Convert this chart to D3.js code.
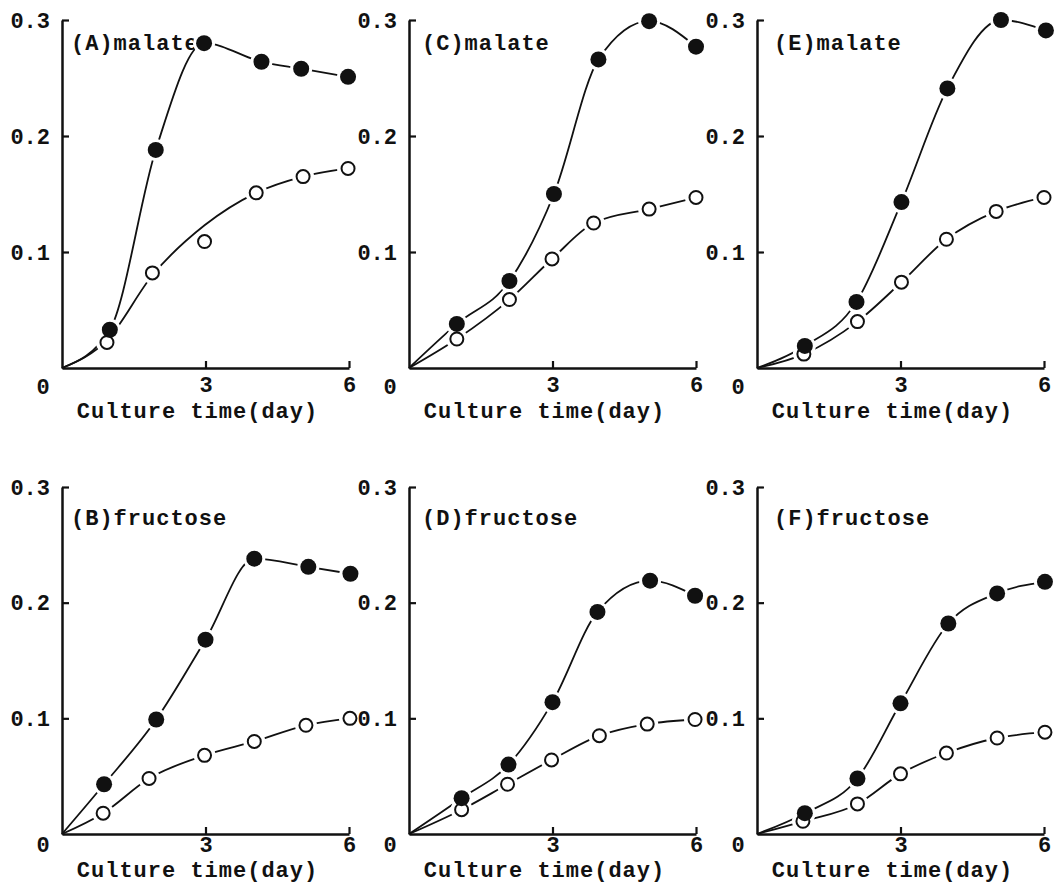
<!DOCTYPE html>
<html>
<head>
<meta charset="utf-8">
<script src="https://cdn.jsdelivr.net/npm/d3@7"></script>
<style>
  body { margin: 0; background: #fff; }
  svg { display: block; }
  text { font-family: "Liberation Mono", "Courier New", monospace; font-weight: bold; fill: #111; }
</style>
</head>
<body>
<svg id="chart" width="1054" height="884"></svg>
<script>
// values: [day, value]
var closedA = [[1.0,0.033],[1.96,0.188],[2.97,0.280],[4.17,0.264],[5.0,0.258],[5.98,0.251]];
var openA   = [[0.94,0.022],[1.89,0.082],[2.98,0.109],[4.06,0.151],[5.04,0.165],[5.98,0.172]];
// fitted curve for openA does not pass through the day-3 point
var openAFit = [[0.94,0.024],[1.89,0.080],[2.98,0.123],[4.06,0.151],[5.04,0.165],[5.98,0.172]];
var closedB = [[0.88,0.043],[1.97,0.099],[3.0,0.168],[4.02,0.238],[5.15,0.231],[6.03,0.225]];
var openB   = [[0.86,0.018],[1.82,0.048],[2.98,0.068],[4.02,0.080],[5.1,0.094],[6.02,0.100]];
var closedC = [[1.0,0.038],[2.1,0.075],[3.03,0.150],[3.96,0.266],[5.02,0.299],[6.0,0.277]];
var openC   = [[1.0,0.025],[2.1,0.059],[2.99,0.094],[3.86,0.125],[5.02,0.137],[6.0,0.147]];
var closedD = [[1.1,0.031],[2.08,0.060],[3.0,0.114],[3.94,0.192],[5.04,0.219],[5.98,0.206]];
var openD   = [[1.1,0.021],[2.06,0.043],[2.98,0.064],[3.98,0.085],[4.98,0.095],[5.98,0.099]];
var closedE = [[1.0,0.019],[2.08,0.057],[3.02,0.143],[3.98,0.241],[5.1,0.300],[6.04,0.291]];
var openE   = [[0.98,0.012],[2.1,0.040],[3.02,0.074],[3.96,0.111],[5.0,0.135],[6.0,0.147]];
var closedF = [[1.0,0.018],[2.1,0.048],[3.0,0.113],[4.0,0.182],[5.02,0.208],[6.02,0.218]];
var openF   = [[0.96,0.011],[2.1,0.026],[3.0,0.052],[3.96,0.070],[5.02,0.083],[6.02,0.088]];

var panelLabels = ["(A)malate", "(B)fructose", "(C)malate", "(D)fructose", "(E)malate", "(F)fructose"];
var yTicks = [0.1, 0.2, 0.3];
var xTicks = [3, 6];
var xTitle = "Culture time(day)";

var panels = [
    {label: panelLabels[0], closed: closedA, open: openA, openFit: openAFit, col: 0, row: 0},
    {label: panelLabels[1], closed: closedB, open: openB, col: 0, row: 1},
    {label: panelLabels[2], closed: closedC, open: openC, col: 1, row: 0},
    {label: panelLabels[3], closed: closedD, open: openD, col: 1, row: 1},
    {label: panelLabels[4], closed: closedE, open: openE, col: 2, row: 0},
    {label: panelLabels[5], closed: closedF, open: openF, col: 2, row: 1}
];

var colLeft = [62, 409, 757];
var labelDx = [9, 13, 17];
var rowTop = [20, 487];
var rowBottom = [368, 834];
var titleDy = [50, 43];
var xPad = [8, 2];
var zeroDy = [26, 18];
var plotW = 287;

var svg = d3.select("#chart");
svg.append("rect").attr("width", 1054).attr("height", 884).attr("fill", "#fff");

panels.forEach(function (p) {
    var x0 = colLeft[p.col];
    var x = d3.scaleLinear().domain([0, 6]).range([x0, x0 + plotW]);
    var y = d3.scaleLinear().domain([0, 0.3]).range([rowBottom[p.row], rowTop[p.row]]);
    var g = svg.append("g");

    var line = d3.line()
        .x(function (d) { return x(d[0]); })
        .y(function (d) { return y(d[1]); })
        .curve(d3.curveMonotoneX);

    var curves = [[[0, 0]].concat(p.closed), [[0, 0]].concat(p.openFit || p.open)];
    g.selectAll("path.curve").data(curves).enter().append("path")
        .attr("class", "curve")
        .attr("d", line)
        .attr("fill", "none")
        .attr("stroke", "#111")
        .attr("stroke-width", 1.8);

    // axes
    var yAxis = d3.axisLeft(y).tickValues(yTicks).tickFormat(d3.format(".1f"))
        .tickSizeInner(-7).tickSizeOuter(0).tickPadding(12);
    var ya = g.append("g").attr("transform", "translate(" + x0 + ",0)").call(yAxis);
    var xAxis = d3.axisBottom(x).tickValues(xTicks).tickFormat(d3.format("d"))
        .tickSizeInner(-7).tickSizeOuter(0).tickPadding(xPad[p.row]);
    var xa = g.append("g").attr("transform", "translate(0," + rowBottom[p.row] + ")").call(xAxis);
    [ya, xa].forEach(function (a) {
        a.select(".domain").attr("stroke", "#111").attr("stroke-width", 2.5);
        a.selectAll(".tick line").attr("stroke", "#111").attr("stroke-width", 2.2);
        a.selectAll(".tick text").attr("font-size", 22).attr("fill", "#111")
            .style("font-family", "'Liberation Mono', monospace").style("font-weight", "bold");
    });

    g.append("text")
        .attr("x", x0 - 19).attr("y", rowBottom[p.row] + zeroDy[p.row])
        .attr("text-anchor", "middle").attr("font-size", 22)
        .text("0");

    g.append("text")
        .attr("x", x0 + plotW / 2 - 8).attr("y", rowBottom[p.row] + titleDy[p.row])
        .attr("text-anchor", "middle").attr("font-size", 22)
        .attr("letter-spacing", 1)
        .text(xTitle);

    g.append("text")
        .attr("x", x0 + labelDx[p.col]).attr("y", rowTop[p.row] + (p.row === 0 ? 30 : 38))
        .attr("font-size", 22)
        .attr("letter-spacing", 1)
        .text(p.label);

    // markers with a white gap around them
    var pts = p.open.map(function (d) { return {d: d, filled: false}; })
        .concat(p.closed.map(function (d) { return {d: d, filled: true}; }));
    g.selectAll("circle.halo").data(pts).enter().append("circle")
        .attr("class", "halo")
        .attr("cx", function (o) { return x(o.d[0]); })
        .attr("cy", function (o) { return y(o.d[1]); })
        .attr("r", 11)
        .attr("fill", "#fff");
    g.selectAll("circle.mark").data(pts).enter().append("circle")
        .attr("class", "mark")
        .attr("cx", function (o) { return x(o.d[0]); })
        .attr("cy", function (o) { return y(o.d[1]); })
        .attr("r", function (o) { return o.filled ? 8 : 6.5; })
        .attr("fill", function (o) { return o.filled ? "#111" : "#fff"; })
        .attr("stroke", "#111")
        .attr("stroke-width", function (o) { return o.filled ? 0 : 2; });
});
</script>
</body>
</html>
